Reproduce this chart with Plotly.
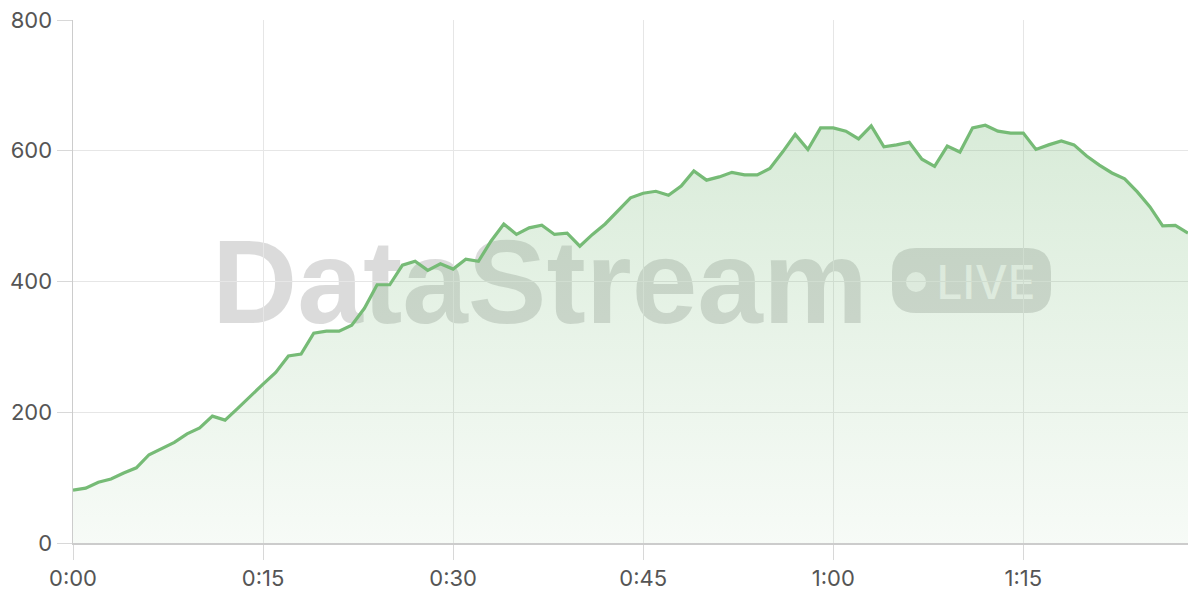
import plotly.graph_objects as go

# minutes since start
minutes = list(range(0, 89))
values = [81, 84, 93, 98, 107, 115, 135, 144, 154, 167,
          176, 194, 188, 206, 225, 243, 261, 286, 289, 321,
          324, 324, 333, 359, 395, 395, 425, 431, 417, 427,
          419, 434, 431, 462, 488, 472, 482, 486, 472, 474,
          454, 472, 488, 508, 528, 535, 538, 532, 546, 569,
          555, 560, 567, 563, 563, 573, 598, 625, 602, 635,
          635, 630, 618, 638, 606, 609, 613, 587, 576, 607,
          598, 635, 639, 630, 627, 627, 602, 609, 615, 609,
          592, 578, 566, 557, 537, 514, 485, 486, 474]
tick_vals = [0, 15, 30, 45, 60, 75]
tick_text = ["0:00", "0:15", "0:30", "0:45", "1:00", "1:15"]
y_ticks = [0, 200, 400, 600, 800]

W, H = 1200, 600
ML, MR, MT, MB = 73, 12, 20, 57
PW, PH = W - ML - MR, H - MT - MB


def px_x(p):
    return (p - ML) / PW


def px_y(p):
    return (H - MB - p) / PH


fig = go.Figure()
fig.add_trace(go.Scatter(
    x=minutes, y=values, mode="lines",
    line=dict(color="#76bb76", width=3.2),
    fill="tozeroy",
    fillgradient=dict(
        type="vertical", start=0, stop=640,
        colorscale=[[0, "rgba(118,185,118,0.06)"], [1, "rgba(118,185,118,0.28)"]],
    ),
    hoverinfo="skip",
))

# Watermark
shapes = []
shapes.append(dict(
    type="rect", xref="paper", yref="paper", layer="below",
    x0=px_x(200), x1=px_x(880), y0=px_y(320), y1=px_y(222),
    line=dict(width=0), fillcolor="rgba(0,0,0,0)",
    label=dict(text="<b>DataStream</b>", textposition="middle center",
               font=dict(size=118, color="rgba(0,0,0,0.14)", family="Liberation Sans")),
))
# pill with rounded corners
x0, x1, y0, y1, r = 892, 1051, 248, 313, 24
rx, ry = r / PW, r / PH
X0, X1, Y0, Y1 = px_x(x0), px_x(x1), px_y(y1), px_y(y0)
path = (f"M {X0+rx},{Y0} L {X1-rx},{Y0} Q {X1},{Y0} {X1},{Y0+ry} "
        f"L {X1},{Y1-ry} Q {X1},{Y1} {X1-rx},{Y1} L {X0+rx},{Y1} "
        f"Q {X0},{Y1} {X0},{Y1-ry} L {X0},{Y0+ry} Q {X0},{Y0} {X0+rx},{Y0} Z")
shapes.append(dict(type="path", xref="paper", yref="paper", layer="below",
                   path=path, line=dict(width=0), fillcolor="rgba(0,0,0,0.14)"))
shapes.append(dict(type="circle", xref="paper", yref="paper", layer="below",
                   x0=px_x(906), x1=px_x(926), y0=px_y(292), y1=px_y(272),
                   line=dict(width=0), fillcolor="rgba(255,255,255,0.75)"))
shapes.append(dict(
    type="rect", xref="paper", yref="paper", layer="below",
    x0=px_x(932), x1=px_x(1040), y0=px_y(305), y1=px_y(256),
    line=dict(width=0), fillcolor="rgba(0,0,0,0)",
    label=dict(text="LIVE", textposition="middle center",
               font=dict(size=46, color="rgba(255,255,255,0.75)", family="Inter", weight=500)),
))

axis_common = dict(
    showgrid=True, gridcolor="#e6e6e6", gridwidth=1,
    showline=True, linecolor="#cccccc", linewidth=1.5,
    ticks="outside", ticklen=15, tickcolor="#d8d8d8", tickwidth=1,
    zeroline=False, fixedrange=True, automargin=False,
    tickfont=dict(family="Inter", size=22, color="#555555"),
)

fig.update_layout(
    width=W, height=H,
    margin=dict(l=ML, r=MR, t=MT, b=MB, pad=0),
    paper_bgcolor="white", plot_bgcolor="white",
    showlegend=False,
    shapes=shapes,
    font=dict(family="Inter", size=22, color="#555555"),
    xaxis=dict(range=[0, 88], tickvals=tick_vals, ticktext=tick_text, **axis_common),
    yaxis=dict(range=[0, 800], tickvals=y_ticks, **axis_common),
)

fig.write_html("out.html", config={"displayModeBar": False, "staticPlot": True},
               post_script="document.body.style.margin='0';document.body.style.overflow='hidden';")
